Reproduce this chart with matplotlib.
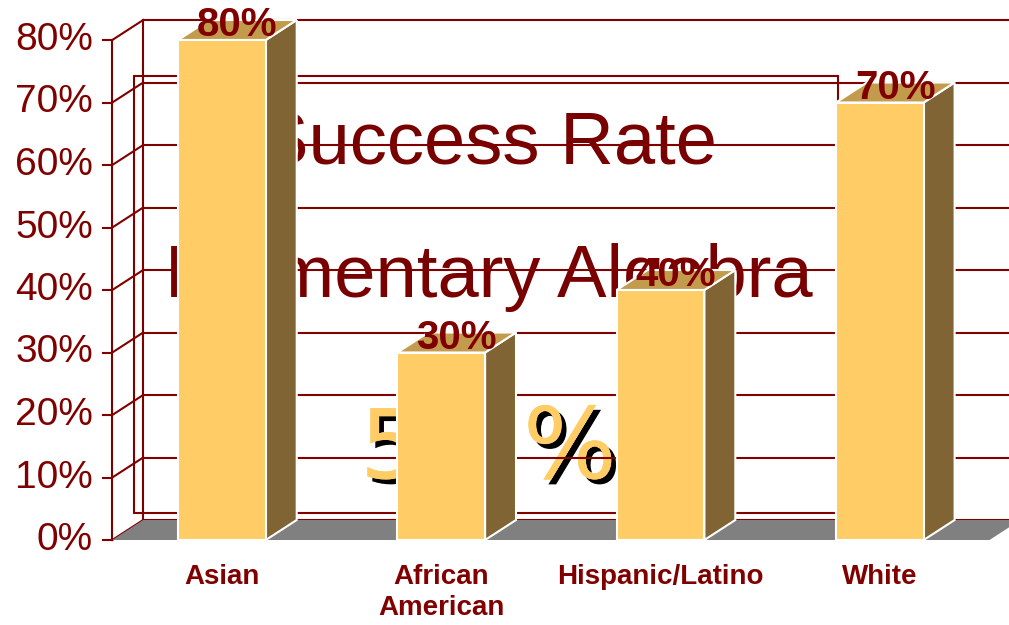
import matplotlib.pyplot as plt
import matplotlib.patheffects as pe
from matplotlib.patches import Polygon, Rectangle

plt.rcParams["font.family"] = ["Liberation Sans", "DejaVu Sans"]

categories = ["Asian", "African\nAmerican", "Hispanic/Latino", "White"]
rates = [80, 30, 40, 70]
ticks = [0, 10, 20, 30, 40, 50, 60, 70, 80]
tick_labels = [f"{t}%" for t in ticks]
title_lines = ["Success Rate", "Elementary Algebra"]
overall = ["56", "%"]

RED = "#800000"
TEXT_RED = "#780000"
FRONT = "#FFCC66"
TOP = "#C39B4C"
SIDE = "#806433"
FLOOR = "#808080"

# pseudo-3D depth (x in category units, y in percent)
DX, DY = 0.141, 3.2
HALF = 0.2
X0, X1 = -0.5, 3.5
XMAX = 3.589

fig = plt.figure(figsize=(10.09, 6.25), dpi=100)
ax = fig.add_axes([0, 0, 1, 1])
ax.set_xlim(-1.012, XMAX)
ax.set_ylim(-13.6, 86.4)
ax.axis("off")

# text box sitting behind the chart
ax.add_patch(Rectangle((-0.401, 4.32), 3.21, 69.92, fill=False,
                       edgecolor=RED, lw=1.5, zorder=1))
ax.text(1.215, 60.3, title_lines[0], ha="center", va="baseline",
        fontsize=53.5, color=TEXT_RED, zorder=1.5)
ax.text(1.215, 38.9, title_lines[1], ha="center", va="baseline",
        fontsize=53.5, color=TEXT_RED, zorder=1.5)
shadow = [pe.withSimplePatchShadow(offset=(3.5, -3.5), shadow_rgbFace="black",
                                   alpha=1.0), pe.Normal()]
ax.text(0.63, 9.9, overall[0], ha="left", va="baseline", fontsize=69,
        color=FRONT, zorder=1.5, family="DejaVu Sans", path_effects=shadow)
ax.text(1.801, 9.9, overall[1], ha="right", va="baseline", fontsize=71,
        color=FRONT, zorder=1.5, family="DejaVu Sans", path_effects=shadow)

# walls: back gridlines, side wall diagonals and front axis
for t, lab in zip(ticks, tick_labels):
    ax.plot([X0 + DX, XMAX], [t + DY, t + DY], color=RED, lw=1.5, zorder=2)
    ax.plot([X0, X0 + DX], [t, t + DY], color=RED, lw=1.5, zorder=2)
    ax.plot([X0 - 0.041, X0], [t, t], color=RED, lw=1.5, zorder=2)
    ax.text(X0 - 0.088, t, lab, ha="right", va="center", fontsize=28,
            color=RED)
ax.plot([X0 + DX, X0 + DX], [DY, ticks[-1] + DY], color=RED, lw=1.5, zorder=2)
ax.plot([X0, X0], [0, ticks[-1]], color=RED, lw=1.5, zorder=2)

# floor
ax.add_patch(Polygon([(X0, 0), (X1, 0), (X1 + DX, DY), (X0 + DX, DY)],
                     closed=True, facecolor=FLOOR, edgecolor="none", zorder=2.5))

# bars
for i, v in enumerate(rates):
    ax.add_patch(Polygon([(i + HALF, 0), (i + HALF + DX, DY),
                          (i + HALF + DX, v + DY), (i + HALF, v)],
                         closed=True, facecolor=SIDE, edgecolor="white",
                         lw=1.5, zorder=3))
    ax.add_patch(Polygon([(i - HALF, v), (i + HALF, v),
                          (i + HALF + DX, v + DY), (i - HALF + DX, v + DY)],
                         closed=True, facecolor=TOP, edgecolor="white",
                         lw=1.5, zorder=3))
    ax.add_patch(Rectangle((i - HALF, 0), 2 * HALF, v, facecolor=FRONT,
                           edgecolor="white", lw=1.5, zorder=3.1))
    ax.text(i + DX / 2, v + 0.6, f"{v}%", ha="center", va="baseline",
            fontsize=29, fontweight="bold", color=RED, zorder=4)
    ax.text(i, -3.9, categories[i], ha="center", va="top", fontsize=20,
            fontweight="bold", color=RED, zorder=4, linespacing=1.25)

fig.savefig("out.png", dpi=100)
